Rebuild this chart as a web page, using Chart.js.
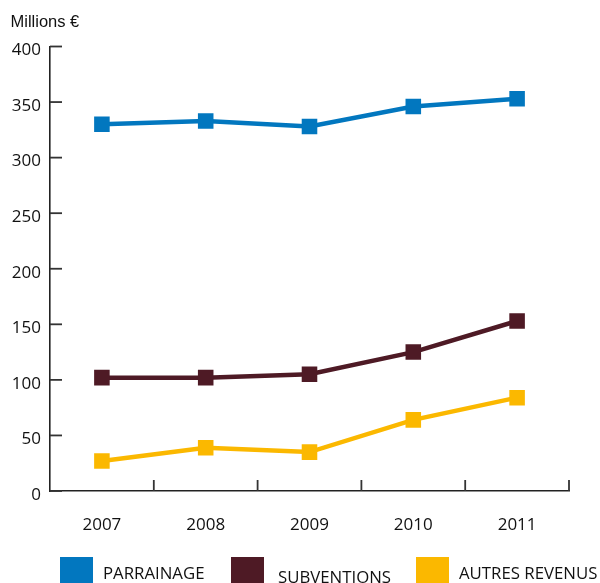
<!DOCTYPE html>
<html>
<head>
<meta charset="utf-8">
<script src="https://cdn.jsdelivr.net/npm/chart.js@4/dist/chart.umd.min.js"></script>
<style>
  html, body { margin: 0; padding: 0; background: #fff; overflow: hidden; }
  #wrap { width: 600px; height: 583px; position: relative; }
</style>
</head>
<body>
<div id="wrap"><canvas id="c" width="600" height="583"></canvas></div>
<script>
// Revenue series, millions of euros
const years = ['2007', '2008', '2009', '2010', '2011'];
const parrainage = [330, 333, 328, 346, 353];
const subventions = [102, 102, 105, 125, 153];
const autresRevenus = [27, 39, 35, 64, 84];
const seriesNames = ['PARRAINAGE', 'SUBVENTIONS', 'AUTRES REVENUS'];
const yTicks = [0, 50, 100, 150, 200, 250, 300, 350, 400];

const colors = ['#0277BF', '#4E1A25', '#FBB800'];
const axisColor = '#222';
const sans = '"Open Sans", "Noto Sans", sans-serif';
const regular = '"Liberation Sans", Arial, sans-serif';

function series(label, data, color) {
  return {
    label, data,
    borderColor: color,
    backgroundColor: color,
    borderWidth: 4.5,
    tension: 0,
    pointStyle: 'rect',
    pointRadius: 11,
    pointHoverRadius: 11,
    pointBorderWidth: 0,
    pointBackgroundColor: color
  };
}

// Short inward tick marks on both axes
const innerTicks = {
  id: 'innerTicks',
  beforeDatasetsDraw(chart) {
    const { ctx } = chart;
    const xs = chart.scales.x, ys = chart.scales.y;
    ctx.save();
    ctx.strokeStyle = '#333';
    ctx.lineWidth = 1.8;
    ys.ticks.forEach(t => {
      const y = ys.getPixelForValue(t.value);
      ctx.beginPath();
      ctx.moveTo(ys.right, y);
      ctx.lineTo(ys.right + 12, y);
      ctx.stroke();
    });
    for (let i = 1; i <= years.length; i++) {
      const x = xs.getPixelForValue(i - 0.5);
      ctx.beginPath();
      ctx.moveTo(x, xs.top);
      ctx.lineTo(x, xs.top - 11);
      ctx.stroke();
    }
    ctx.restore();
  }
};

// Unit caption above the value axis
const unitCaption = {
  id: 'unitCaption',
  afterDraw(chart) {
    const { ctx } = chart;
    ctx.save();
    ctx.fillStyle = '#111';
    ctx.font = '16.5px ' + regular;
    ctx.textBaseline = 'alphabetic';
    ctx.textAlign = 'left';
    ctx.fillText('Millions €', 10.5, 26.7);
    ctx.restore();
  }
};

// Legend row under the category labels
const bottomLegend = {
  id: 'bottomLegend',
  afterDraw(chart, args, opts) {
    const { ctx } = chart;
    ctx.save();
    ctx.font = '16.8px ' + sans;
    ctx.textBaseline = 'alphabetic';
    ctx.textAlign = 'left';
    chart.data.datasets.forEach((ds, i) => {
      const item = opts.items[i];
      ctx.fillStyle = ds.backgroundColor;
      ctx.fillRect(item.box, opts.boxTop, opts.boxSize, opts.boxSize);
      ctx.fillStyle = '#111';
      ctx.fillText(ds.label, item.text, item.base);
    });
    ctx.restore();
  }
};

new Chart(document.getElementById('c'), {
  type: 'line',
  data: {
    labels: years,
    datasets: [
      series(seriesNames[0], parrainage, colors[0]),
      series(seriesNames[1], subventions, colors[1]),
      series(seriesNames[2], autresRevenus, colors[2])
    ]
  },
  options: {
    responsive: false,
    animation: false,
    layout: { padding: { top: 46.5, right: 31, left: 0, bottom: 0 } },
    plugins: {
      legend: { display: false },
      tooltip: { enabled: false },
      bottomLegend: {
        boxTop: 557,
        boxSize: 33,
        items: [
          { box: 60, text: 103, base: 579 },
          { box: 231, text: 278, base: 583 },
          { box: 416, text: 459, base: 579 }
        ]
      }
    },
    scales: {
      x: {
        offset: true,
        grid: { display: false, drawTicks: false },
        border: { display: true, color: axisColor, width: 1.6 },
        ticks: {
          color: '#111',
          font: { family: sans, size: 17 },
          padding: 24,
          maxRotation: 0
        },
        afterFit(scale) { scale.height = 92; }
      },
      y: {
        min: 0,
        max: 400,
        afterBuildTicks(scale) { scale.ticks = yTicks.map(v => ({ value: v })); },
        grid: { display: false, drawTicks: false },
        border: { display: true, color: axisColor, width: 1.6 },
        ticks: {
          color: '#111',
          font: { family: sans, size: 17 },
          padding: 9,
          labelOffset: 4
        },
        afterFit(scale) { scale.width = 50; }
      }
    }
  },
  plugins: [innerTicks, unitCaption, bottomLegend]
});
</script>
</body>
</html>
